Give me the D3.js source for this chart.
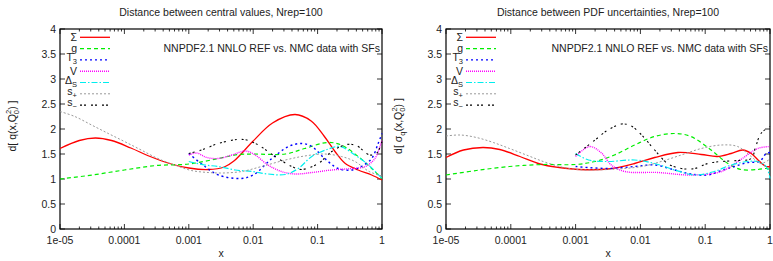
<!DOCTYPE html>
<html><head><meta charset="utf-8">
<script src="https://cdn.jsdelivr.net/npm/d3@7"></script>
<style>body{margin:0;background:#fff}svg{display:block;font-family:"Liberation Sans",Arial,sans-serif}</style>
</head><body><svg id="c" width="773" height="261"></svg>
<script>
// ---------- data (x given as log10(x)) ----------
const seriesNames = ["Σ","g","T3","V","ΔS","s+","s−"];
const xTicks = [1e-5,1e-4,1e-3,1e-2,1e-1,1];
const xTickLabels = ["1e-05","0.0001","0.001","0.01","0.1","1"];
const yTicks = [0,0.5,1,1.5,2,2.5,3,3.5,4];

// Left panel: distance between central values
const cvSigmaLx = [-5,-4.7,-4.45,-4.2,-3.9,-3.6,-3.3,-3.0,-2.7,-2.45,-2.3,-2.0,-1.7,-1.35,-1.1,-0.9,-0.73,-0.57,-0.37,-0.16,0];
const cvSigmaY  = [1.61,1.77,1.82,1.77,1.62,1.45,1.31,1.22,1.19,1.24,1.36,1.76,2.12,2.29,2.16,1.86,1.55,1.31,1.18,1.08,0.98];
const cvGLx = [-5,-4.5,-4.0,-3.5,-3.0,-2.54,-2.23,-2.0,-1.5,-1.2,-0.85,-0.63,-0.37,-0.16,0];
const cvGY  = [1.0,1.08,1.18,1.27,1.30,1.41,1.49,1.50,1.50,1.61,1.73,1.68,1.45,1.21,1.01];
const cvT3Lx = [-3,-2.75,-2.54,-2.2,-2.0,-1.71,-1.45,-1.25,-1.09,-0.89,-0.68,-0.47,-0.32,-0.16,-0.06,0];
const cvT3Y  = [1.51,1.25,1.08,1.01,1.08,1.41,1.65,1.71,1.65,1.41,1.21,1.18,1.25,1.41,1.71,1.91];
const cvVLx = [-3,-2.88,-2.72,-2.54,-2.33,-2.12,-1.97,-1.77,-1.56,-1.35,-1.09,-0.78,-0.47,-0.26,-0.11,0];
const cvVY  = [1.48,1.52,1.43,1.41,1.48,1.56,1.48,1.28,1.15,1.10,1.13,1.18,1.21,1.25,1.41,1.78];
const cvDSLx = [-3,-2.75,-2.54,-2.28,-2.02,-1.77,-1.5,-1.3,-1.09,-0.83,-0.65,-0.42,-0.21,0];
const cvDSY  = [1.35,1.28,1.25,1.18,1.15,1.10,1.09,1.21,1.45,1.60,1.65,1.48,1.28,1.01];
const cvSpLx = [-5,-4.77,-4.51,-4.25,-4.0,-3.74,-3.48,-3.22,-2.96,-2.7,-2.47,-2.18,-1.87,-1.5,-1.2,-0.9,-0.63,-0.42,-0.2,0];
const cvSpY  = [2.35,2.25,2.08,1.91,1.75,1.58,1.41,1.28,1.17,1.13,1.12,1.15,1.25,1.38,1.46,1.50,1.45,1.35,1.15,1.06];
const cvSmLx = [-3,-2.8,-2.54,-2.25,-2.1,-1.92,-1.66,-1.4,-1.25,-0.99,-0.78,-0.55,-0.4,-0.19,-0.08,0];
const cvSmY  = [1.51,1.58,1.71,1.79,1.78,1.68,1.45,1.25,1.19,1.31,1.55,1.69,1.67,1.48,1.52,1.75];

// Right panel: distance between PDF uncertainties
const unSigmaLx = [-5,-4.73,-4.43,-4.17,-3.86,-3.55,-3.25,-2.94,-2.5,-2.09,-1.78,-1.42,-1.06,-0.81,-0.6,-0.42,-0.29,-0.16,-0.06,0];
const unSigmaY  = [1.43,1.58,1.63,1.59,1.45,1.30,1.23,1.19,1.20,1.31,1.43,1.53,1.49,1.45,1.51,1.58,1.51,1.35,1.25,1.25];
const unGLx = [-5,-4.53,-4.02,-3.5,-3.0,-2.7,-2.4,-2.09,-1.78,-1.47,-1.22,-0.91,-0.65,-0.45,-0.19,-0.06,0];
const unGY  = [1.08,1.17,1.25,1.29,1.29,1.35,1.48,1.68,1.85,1.91,1.85,1.58,1.31,1.19,1.19,1.21,1.19];
const unT3Lx = [-3,-2.5,-2.09,-1.78,-1.47,-1.22,-0.96,-0.75,-0.55,-0.34,-0.16,-0.06,0];
const unT3Y  = [1.25,1.21,1.25,1.28,1.18,1.10,1.08,1.17,1.25,1.33,1.35,1.51,1.53];
const unVLx = [-3,-2.78,-2.6,-2.45,-2.24,-1.73,-1.22,-0.75,-0.45,-0.19,0];
const unVY  = [1.45,1.65,1.52,1.28,1.15,1.13,1.08,1.15,1.39,1.61,1.65];
const unDSLx = [-3,-2.8,-2.5,-2.09,-1.78,-1.47,-1.16,-0.86,-0.6,-0.34,-0.19,-0.06,0];
const unDSY  = [1.51,1.38,1.35,1.38,1.31,1.18,1.08,1.15,1.28,1.35,1.35,1.25,1.01];
const unSpLx = [-5,-4.78,-4.53,-4.27,-4.02,-3.76,-3.5,-3.25,-2.99,-2.5,-1.98,-1.68,-1.37,-1.06,-0.75,-0.5,-0.29,-0.14,0];
const unSpY  = [1.86,1.88,1.83,1.73,1.61,1.48,1.35,1.25,1.19,1.19,1.25,1.35,1.48,1.61,1.68,1.65,1.45,1.31,1.40];
const unSmLx = [-3,-2.7,-2.5,-2.29,-2.14,-1.98,-1.78,-1.58,-1.37,-1.16,-0.96,-0.75,-0.5,-0.29,-0.22,-0.14,0];
const unSmY  = [1.48,1.78,1.98,2.10,2.06,1.88,1.58,1.31,1.21,1.21,1.31,1.35,1.37,1.41,1.65,1.91,2.05];

const styles = [
  {color:"#ff0000", dash:null, w:1.3},
  {color:"#00ee00", dash:"4,3", w:1.2},
  {color:"#0000ff", dash:"2,3", w:1.4},
  {color:"#ff00ff", dash:"1,1", w:1.4},
  {color:"#00eeee", dash:"6,2,1.5,2", w:1.2},
  {color:"#999999", dash:"2,2", w:1},
  {color:"#000000", dash:"2,2,2,5", w:1.1}
];

const panels = [
  {left:60, right:382, title:"Distance between central values, Nrep=100", ylab:"q",
   series:[[cvSigmaLx,cvSigmaY],[cvGLx,cvGY],[cvT3Lx,cvT3Y],[cvVLx,cvVY],[cvDSLx,cvDSY],[cvSpLx,cvSpY],[cvSmLx,cvSmY]]},
  {left:446, right:770, title:"Distance between PDF uncertainties, Nrep=100", ylab:"sigma",
   series:[[unSigmaLx,unSigmaY],[unGLx,unGY],[unT3Lx,unT3Y],[unVLx,unVY],[unDSLx,unDSY],[unSpLx,unSpY],[unSmLx,unSmY]]}
];

const svg = d3.select("#c");
const pTop=29, pBot=229;
const y = d3.scaleLinear().domain([0,4]).range([pBot,pTop]);

panels.forEach((p,pi)=>{
  const x = d3.scaleLog().domain([1e-5,1]).range([p.left,p.right]);
  const g = svg.append("g");
  const minors=[];
  for(let e=-5;e<0;e++) for(let m=2;m<=9;m++) minors.push(m*Math.pow(10,e));
  minors.forEach(v=>{
    g.append("line").attr("x1",x(v)).attr("x2",x(v)).attr("y1",pBot).attr("y2",pBot-2.5).attr("stroke","#000").attr("stroke-width",0.8);
    g.append("line").attr("x1",x(v)).attr("x2",x(v)).attr("y1",pTop).attr("y2",pTop+2.5).attr("stroke","#000").attr("stroke-width",0.8);
  });
  xTicks.forEach((v,i)=>{
    g.append("line").attr("x1",x(v)).attr("x2",x(v)).attr("y1",pBot).attr("y2",pBot-5).attr("stroke","#000").attr("stroke-width",0.8);
    g.append("line").attr("x1",x(v)).attr("x2",x(v)).attr("y1",pTop).attr("y2",pTop+5).attr("stroke","#000").attr("stroke-width",0.8);
    g.append("text").attr("x",x(v)).attr("y",pBot+15).attr("text-anchor","middle").attr("font-size",10.5).attr("fill","#222").text(xTickLabels[i]);
  });
  yTicks.forEach(v=>{
    g.append("line").attr("x1",p.left).attr("x2",p.left+5).attr("y1",y(v)).attr("y2",y(v)).attr("stroke","#000").attr("stroke-width",0.8);
    g.append("line").attr("x1",p.right).attr("x2",p.right-5).attr("y1",y(v)).attr("y2",y(v)).attr("stroke","#000").attr("stroke-width",0.8);
    g.append("text").attr("x",p.left-4).attr("y",y(v)+3.5).attr("text-anchor","end").attr("font-size",10.5).attr("fill","#222").text(d3.format("")(v));
  });
  g.append("rect").attr("x",p.left).attr("y",pTop).attr("width",p.right-p.left).attr("height",pBot-pTop)
    .attr("fill","none").attr("stroke","#000").attr("stroke-width",1.2);

  const cx=(p.left+p.right)/2;
  g.append("text").attr("x",cx).attr("y",16).attr("text-anchor","middle").attr("font-size",10.5).attr("fill","#222").text(p.title);
  g.append("text").attr("x",cx).attr("y",257).attr("text-anchor","middle").attr("font-size",10.5).attr("fill","#222").text("x");
  g.append("text").attr("x",p.right-2).attr("y",52).attr("text-anchor","end").attr("font-size",10.5).attr("fill","#222")
    .text("NNPDF2.1 NNLO REF vs. NMC data with SFs");

  const yl = g.append("text").attr("transform",`translate(${p.left-44},${126}) rotate(-90)`)
    .attr("text-anchor","middle").attr("font-size",10.5).attr("fill","#222");
  if(p.ylab==="q"){
    yl.append("tspan").text("d[ q(x,Q");
  } else {
    yl.append("tspan").text("d[ σ");
    yl.append("tspan").attr("font-size",7.5).attr("dy",3).text("q");
    yl.append("tspan").attr("dy",-3).text("(x,Q");
  }
  yl.append("tspan").attr("font-size",7.5).attr("dy",3).text("0");
  yl.append("tspan").attr("font-size",7.5).attr("dy",-8).attr("dx",-4).text("2");
  yl.append("tspan").attr("dy",5).text(") ]");

  const line = d3.line().x(d=>x(Math.pow(10,d[0]))).y(d=>y(d[1])).curve(d3.curveCatmullRom.alpha(0.5));
  p.series.forEach((s,i)=>{
    const pts = s[0].map((lx,k)=>[lx,s[1][k]]);
    const st=styles[i];
    g.append("path").attr("d",line(pts)).attr("fill","none").attr("stroke",st.color)
      .attr("stroke-width",st.w).attr("stroke-dasharray",st.dash);
  });

  const ly0=37.3, dy=11.3, lx1=p.left+20, lx2=p.left+50, lt=p.left+17;
  seriesNames.forEach((n,i)=>{
    const yy=ly0+i*dy, st=styles[i];
    g.append("line").attr("x1",lx1).attr("x2",lx2).attr("y1",yy).attr("y2",yy).attr("stroke",st.color)
      .attr("stroke-width",st.w).attr("stroke-dasharray",st.dash);
    const t=g.append("text").attr("x",lt).attr("y",yy+3.5).attr("text-anchor","end").attr("font-size",10.5).attr("fill","#222");
    if(n.length===1){ t.text(n); }
    else {
      t.attr("y",yy+1);
      t.append("tspan").text(n[0]);
      t.append("tspan").attr("font-size",7.5).attr("dy",3).text(n[1]);
    }
  });
});
</script></body></html>
